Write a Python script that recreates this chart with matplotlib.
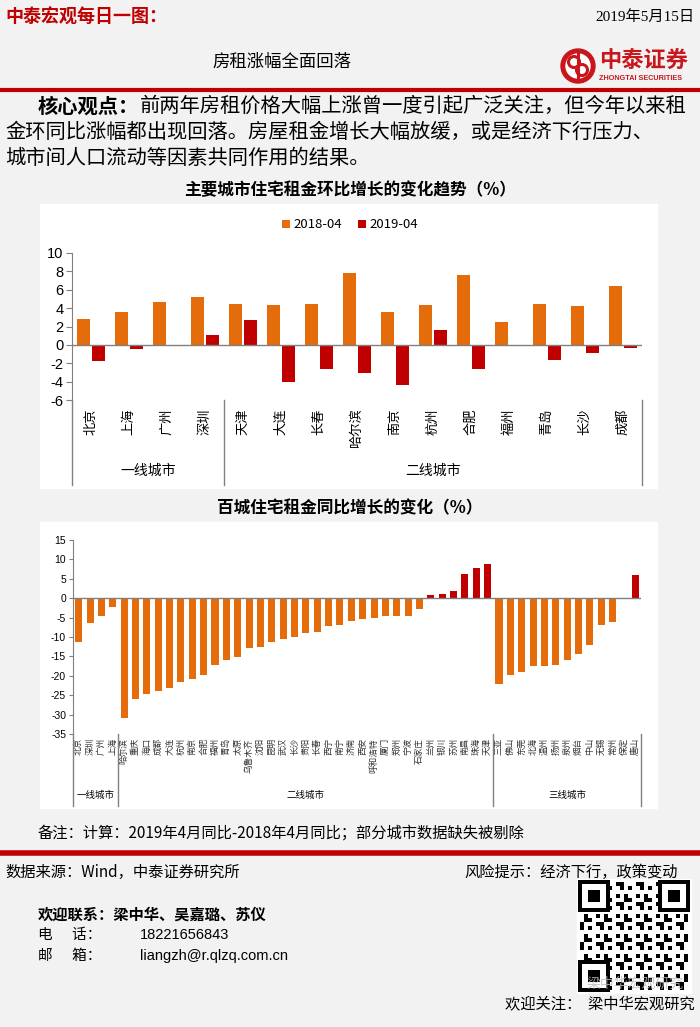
import numpy as np
import matplotlib
matplotlib.use("Agg")
import matplotlib.pyplot as plt
from matplotlib.patches import Rectangle, Circle

plt.rcParams['font.family'] = ['Noto Sans CJK SC', 'DejaVu Sans']

W, H = 700, 1027
ORANGE = '#E46C0A'
RED = '#C00000'
GRAY = '#808080'
NUM_FONT = ['Liberation Sans', 'DejaVu Sans']

# 主要城市住宅租金环比增长 (%)
cities_top = ['北京', '上海', '广州', '深圳', '天津', '大连', '长春', '哈尔滨',
              '南京', '杭州', '合肥', '福州', '青岛', '长沙', '成都']
v2018 = [2.8, 3.6, 4.7, 5.2, 4.4, 4.3, 4.4, 7.8, 3.6, 4.3, 7.6, 2.5, 4.4, 4.2, 6.4]
v2019 = [-1.8, -0.5, np.nan, 1.1, 2.7, -4.0, -2.6, -3.1, -4.4, 1.6, -2.6, np.nan, -1.7, -0.9, -0.3]
yticks_top = [-6, -4, -2, 0, 2, 4, 6, 8, 10]

# 百城住宅租金同比增长的变化 (%)
tier1 = ['北京', '深圳', '广州', '上海']
tier1_v = [-11.2, -6.5, -4.7, -2.2]
tier2 = ['哈尔滨', '重庆', '海口', '成都', '大连', '杭州', '南京', '合肥', '福州', '青岛',
         '太原', '乌鲁木齐', '沈阳', '昆明', '武汉', '长沙', '贵阳', '长春', '西宁', '南宁',
         '济南', '西安', '呼和浩特', '厦门', '郑州', '宁波', '石家庄', '兰州', '银川', '苏州',
         '南昌', '珠海', '天津']
tier2_v = [-30.8, -26.0, -24.8, -23.8, -23.2, -21.5, -20.9, -19.8, -17.1, -16.0,
           -15.1, -12.9, -12.7, -11.4, -10.6, -10.1, -8.9, -8.7, -7.1, -6.8,
           -5.8, -5.4, -5.1, -4.6, -4.6, -4.5, -2.7, 0.9, 1.2, 1.9,
           6.2, 7.8, 8.9]
tier3 = ['三亚', '佛山', '东莞', '北海', '温州', '扬州', '泉州', '烟台', '中山', '无锡',
         '常州', '保定', '唐山']
tier3_v = [-22.1, -19.9, -19.0, -17.4, -17.4, -17.3, -15.9, -14.4, -12.1, -7.0,
           -6.2, np.nan, 5.9]
yticks_bot = [-35, -30, -25, -20, -15, -10, -5, 0, 5, 10, 15]


def px_axes(x0, y0, x1, y1):
    # 像素坐标 -> figure 坐标
    return [x0 / W, 1 - y1 / H, (x1 - x0) / W, (y1 - y0) / H]


fig = plt.figure(figsize=(W / 100, H / 100), dpi=100, facecolor='#F2F2F2')

# 背景层（像素坐标）
bg = fig.add_axes([0, 0, 1, 1])
bg.set_xlim(0, W)
bg.set_ylim(H, 0)
bg.axis('off')
bg.set_facecolor('none')

bg.text(5, 17, '中泰宏观每日一图：', color=RED, fontsize=13, fontweight='bold', va='center')
bg.text(695, 17, '2019年5月15日', fontsize=11, ha='right', va='center',
        family=['Liberation Serif', 'Noto Sans CJK SC'])
bg.text(282, 62, '房租涨幅全面回落', fontsize=12.5, ha='center', va='center')

# logo
bg.add_patch(Circle((578, 66), 17, color='#C8161D'))
bg.add_patch(Circle((578, 66), 12, color='white'))
bg.add_patch(Circle((574, 62), 5.5, fill=False, ec='#C8161D', lw=2.2))
bg.add_patch(Circle((582, 70), 5.5, fill=False, ec='#C8161D', lw=2.2))
bg.plot([578, 578], [52, 80], color='#C8161D', lw=2.2)
bg.text(599, 61, '中泰证券', color='#C8161D', fontsize=16, fontweight='bold', va='center')
bg.text(599, 79, 'ZHONGTAI SECURITIES', color='#C8161D', fontsize=5.2, fontweight='bold',
        va='center', family=NUM_FONT)

bg.plot([0, W], [90, 90], color=RED, lw=3, solid_capstyle='butt')

fs = 14.6
em = fs * 100 / 72
bg.text(38, 106, '核心观点：', fontsize=fs, fontweight='bold', va='center')
bg.text(38 + 5 * em, 106, '前两年房租价格大幅上涨曾一度引起广泛关注，但今年以来租',
        fontsize=fs, va='center')
bg.text(5, 132, '金环同比涨幅都出现回落。房屋租金增长大幅放缓，或是经济下行压力、',
        fontsize=fs, va='center')
bg.text(5, 158, '城市间人口流动等因素共同作用的结果。', fontsize=fs, va='center')

bg.text(350, 190, '主要城市住宅租金环比增长的变化趋势（%）', fontsize=12, fontweight='bold',
        ha='center', va='center')
bg.add_patch(Rectangle((40, 204), 617, 284, color='white', zorder=0))

bg.text(350, 508, '百城住宅租金同比增长的变化（%）', fontsize=12, fontweight='bold',
        ha='center', va='center')
bg.add_patch(Rectangle((40, 522), 617, 286, color='white', zorder=0))

bg.text(38, 833, '备注：计算：2019年4月同比-2018年4月同比；部分城市数据缺失被剔除',
        fontsize=11, va='center')
bg.plot([0, W], [853, 853], color=RED, lw=4, solid_capstyle='butt')
bg.text(5, 872, '数据来源：Wind，中泰证券研究所', fontsize=11, va='center')
bg.text(678, 872, '风险提示：经济下行，政策变动', fontsize=11, ha='right', va='center')
bg.text(38, 915, '欢迎联系：梁中华、吴嘉璐、苏仪', fontsize=11, fontweight='bold', va='center')
bg.text(38, 935, '电      话：', fontsize=10.5, va='center')
bg.text(140, 935, '18221656843', fontsize=10.5, va='center', family=NUM_FONT)
bg.text(38, 956, '邮      箱：', fontsize=10.5, va='center')
bg.text(140, 956, 'liangzh@r.qlzq.com.cn', fontsize=10.5, va='center', family=NUM_FONT)

# 二维码（示意）
qx, qy, qs = 580, 882, 108
n = 27
cell = qs / n
bg.add_patch(Rectangle((qx - 3, qy - 3), qs + 6, qs + 6, color='white'))
for i in range(n):
    for j in range(n):
        if (i * 7 + j * 13 + i * j) % 5 in (0, 2):
            bg.add_patch(Rectangle((qx + j * cell, qy + i * cell), cell, cell, color='black', lw=0))
for fx, fy in [(0, 0), (n - 7, 0), (0, n - 7)]:
    x0, y0 = qx + fx * cell, qy + fy * cell
    bg.add_patch(Rectangle((x0, y0), 7 * cell, 7 * cell, color='white', lw=0))
    bg.add_patch(Rectangle((x0, y0), 7 * cell, 7 * cell, fill=False, ec='black', lw=cell * 0.72))
    bg.add_patch(Rectangle((x0 + 2 * cell, y0 + 2 * cell), 3 * cell, 3 * cell, color='black', lw=0))

bg.text(635, 984, '梁中华宏观研究', fontsize=10, color='#BBBBBB', ha='center', va='center', alpha=0.8)
bg.text(695, 1004, '欢迎关注：  梁中华宏观研究', fontsize=11, ha='right', va='center')

# ---------- 图1 ----------
ax1 = fig.add_axes(px_axes(72, 253, 642, 400))
ax1.set_facecolor('none')
x = np.arange(len(cities_top))
bw = 0.35
b1 = ax1.bar(x - bw / 2 - 0.02, v2018, bw, color=ORANGE, label='2018-04')
b2 = ax1.bar(x + bw / 2 + 0.02, v2019, bw, color=RED, label='2019-04')
ax1.axhline(0, color=GRAY, lw=1)
ax1.set_xlim(-0.5, len(cities_top) - 0.5)
ax1.set_ylim(-6, 10)
ax1.set_yticks(yticks_top)
ax1.set_yticklabels([str(t) for t in yticks_top], family=NUM_FONT, fontsize=10.5)
ax1.set_xticks(x)
ax1.set_xticklabels(cities_top, rotation=90, fontsize=9.5, va='top', ha='center')
ax1.tick_params(axis='x', length=0, pad=6)
ax1.tick_params(axis='y', length=4, color=GRAY, pad=2)
for s in ['top', 'right', 'bottom']:
    ax1.spines[s].set_visible(False)
ax1.spines['left'].set_color(GRAY)
trans = ax1.get_xaxis_transform()
for xv in [-0.5, 3.5, len(cities_top) - 0.5]:
    ax1.plot([xv, xv], [0, -0.58], color=GRAY, lw=1, transform=trans, clip_on=False)
ax1.text(1.5, -0.48, '一线城市', transform=trans, ha='center', va='center', fontsize=10)
ax1.text(9.0, -0.48, '二线城市', transform=trans, ha='center', va='center', fontsize=10)
ax1.legend(handles=[b1, b2], loc='center', bbox_to_anchor=(350 / W, 1 - 225 / H),
           bbox_transform=fig.transFigure, ncol=2, frameon=False, fontsize=9.5,
           handlelength=0.6, handleheight=0.6, handletextpad=0.3, columnspacing=1.2)

# ---------- 图2 ----------
names = tier1 + tier2 + tier3
vals = np.array(tier1_v + tier2_v + tier3_v)
ax2 = fig.add_axes(px_axes(73, 540, 641, 734))
ax2.set_facecolor('none')
x2 = np.arange(len(names))
colors = [RED if v > 0 else ORANGE for v in np.nan_to_num(vals)]
ax2.bar(x2, vals, 0.62, color=colors)
ax2.axhline(0, color=GRAY, lw=1)
ax2.set_xlim(-0.5, len(names) - 0.5)
ax2.set_ylim(-35, 15)
ax2.set_yticks(yticks_bot)
ax2.set_yticklabels([str(t) for t in yticks_bot], family=NUM_FONT, fontsize=7.5)
ax2.set_xticks(x2)
ax2.set_xticklabels(names, rotation=90, fontsize=6.2, va='top', ha='center', color='#333333')
ax2.tick_params(axis='x', length=0, pad=3)
ax2.tick_params(axis='y', length=3, color=GRAY, pad=2)
for s in ['top', 'right', 'bottom']:
    ax2.spines[s].set_visible(False)
ax2.spines['left'].set_color(GRAY)
trans2 = ax2.get_xaxis_transform()
n1, n2 = len(tier1), len(tier2)
for xv in [-0.5, n1 - 0.5, n1 + n2 - 0.5, len(names) - 0.5]:
    ax2.plot([xv, xv], [0, -0.37], color=GRAY, lw=1, transform=trans2, clip_on=False)
ax2.text((n1 - 1) / 2, -0.315, '一线城市', transform=trans2, ha='center', va='center', fontsize=6.8)
ax2.text(n1 + (n2 - 1) / 2, -0.315, '二线城市', transform=trans2, ha='center', va='center', fontsize=6.8)
ax2.text(n1 + n2 + (len(tier3) - 1) / 2, -0.315, '三线城市', transform=trans2, ha='center',
         va='center', fontsize=6.8)

fig.savefig('out.png', dpi=100, facecolor=fig.get_facecolor())
